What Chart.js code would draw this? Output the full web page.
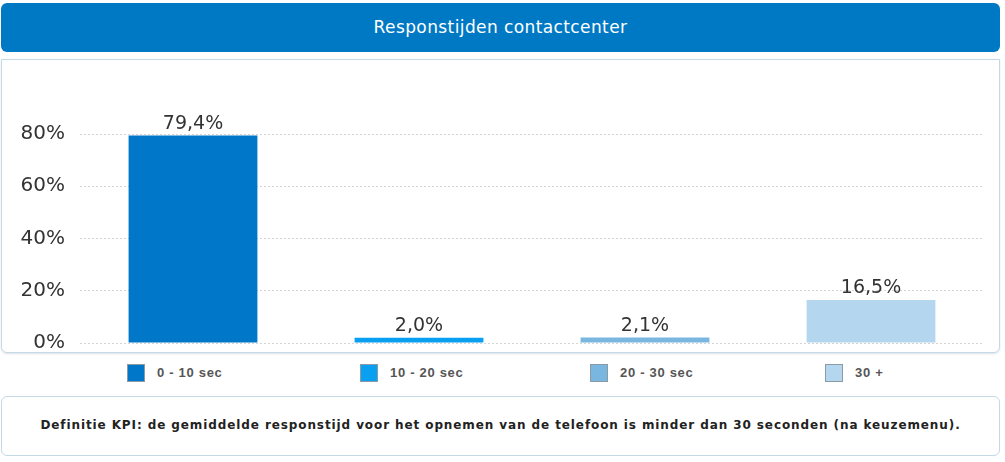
<!DOCTYPE html>
<html>
<head>
<meta charset="utf-8">
<script src="https://cdn.jsdelivr.net/npm/chart.js@4/dist/chart.umd.min.js"></script>
<style>
  body { margin: 0; background: #fff; font-family: "DejaVu Sans", Verdana, sans-serif; }
  #header {
    position: absolute; left: 1px; top: 3px; width: 999px; height: 49px;
    background: #0079c5; border-radius: 6px; color: #fff;
    font-size: 17px; letter-spacing: 0.4px; line-height: 49px; text-align: center;
  }
  #panel {
    position: absolute; left: 1px; top: 59px; width: 997px; height: 292px;
    border: 1px solid #c5d8e5; border-radius: 0 0 6px 6px;
    box-shadow: 0 1px 2px rgba(160,180,200,0.4);
  }
  #wrap { position: relative; width: 997px; height: 292px; }
  #legend { position: absolute; left: 0; top: 355px; width: 1005px; height: 36px; }
  .item { position: absolute; top: 9px; height: 18px; font: bold 13px "Liberation Sans", Arial, sans-serif; color: #555; letter-spacing: 0.7px; }
  .item span.box { position: absolute; left: 0; top: 0; width: 16px; height: 16px; border: 1px solid #8a9aa6; }
  .item span.txt { position: absolute; left: 30px; top: 1px; white-space: nowrap; line-height: 16px; }
  #footer {
    position: absolute; left: 1px; top: 396px; width: 997px; height: 58px;
    border: 1px solid #c5d8e5; border-radius: 6px;
    font-size: 12px; font-weight: bold; color: #222; text-align: center; line-height: 56px; letter-spacing: 0.9px;
  }
</style>
</head>
<body>
<div id="header">Responstijden contactcenter</div>
<div id="panel"><div id="wrap"><canvas id="myChart"></canvas></div></div>
<div id="legend"></div>
<div id="footer">Definitie KPI: de gemiddelde responstijd voor het opnemen van de telefoon is minder dan 30 seconden (na keuzemenu).</div>
<script>
var categories = ['0 - 10 sec', '10 - 20 sec', '20 - 30 sec', '30 +']
var values = [79.4, 2.0, 2.1, 16.5]
var yTicks = [0, 20, 40, 60, 80]
var barColors = ['#0077c8', '#0aa0f2', '#79b7e1', '#b4d7ef']
var legendX = [127, 360, 590, 825]

function fmt(v) {
  return v.toFixed(1).replace('.', ',') + '%'
}

// html legend built from the categories
var legend = document.getElementById('legend')
categories.forEach(function (c, i) {
  var d = document.createElement('div')
  d.className = 'item'
  d.style.left = legendX[i] + 'px'
  d.innerHTML = '<span class="box" style="background:' + barColors[i] + '"></span><span class="txt">' + c + '</span>'
  legend.appendChild(d)
})

// draws value labels above bars
var valueLabels = {
  id: 'valueLabels',
  afterDatasetsDraw: function (chart) {
    var ctx = chart.ctx
    var meta = chart.getDatasetMeta(0)
    ctx.save()
    ctx.font = '19px "DejaVu Sans", Verdana, sans-serif'
    ctx.fillStyle = '#333'
    ctx.textAlign = 'center'
    ctx.textBaseline = 'bottom'
    meta.data.forEach(function (bar, i) {
      ctx.fillText(fmt(values[i]), bar.x, bar.y - 2)
    })
    ctx.restore()
  }
}

var ctx = document.getElementById('myChart').getContext('2d')
var chart = new Chart(ctx, {
  type: 'bar',
  data: {
    labels: categories,
    datasets: [{
      label: 'Responstijd',
      data: values,
      backgroundColor: barColors,
      borderWidth: 0,
      categoryPercentage: 1,
      barPercentage: 0.57
    }]
  },
  options: {
    responsive: true,
    maintainAspectRatio: false,
    animation: false,
    layout: { padding: { top: 74, right: 15, bottom: 9, left: 0 } },
    plugins: { legend: { display: false }, tooltip: { enabled: false } },
    scales: {
      x: { display: false },
      y: {
        min: 0,
        max: 80,
        afterBuildTicks: function (scale) {
          scale.ticks = yTicks.map(function (v) { return { value: v } })
        },
        afterFit: function (scale) {
          scale.width = 78
          scale.paddingTop = 0
          scale.paddingBottom = 0
        },
        grid: { color: '#d4d4d4', drawTicks: false, lineWidth: 1 },
        border: { display: false, dash: [2, 2] },
        ticks: {
          padding: 15,
          color: '#333',
          font: { family: '"DejaVu Sans", Verdana, sans-serif', size: 20 },
          callback: function (v) { return v + '%' }
        }
      }
    }
  },
  plugins: [valueLabels]
})
</script>
</body>
</html>
